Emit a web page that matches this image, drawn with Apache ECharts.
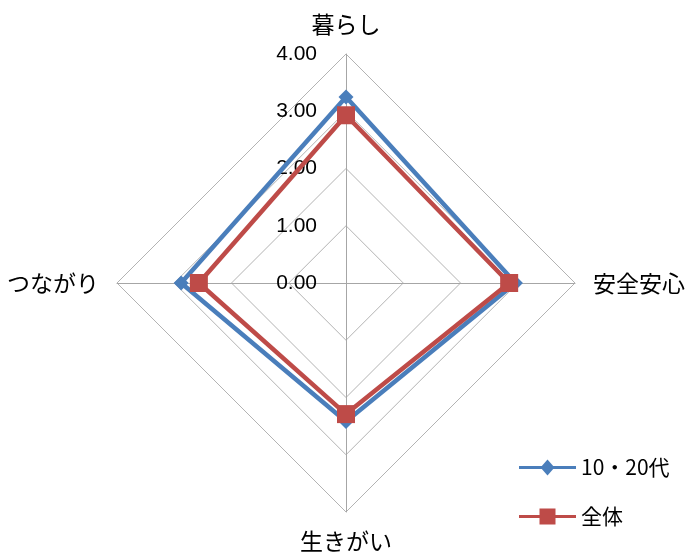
<!DOCTYPE html>
<html>
<head>
<meta charset="utf-8">
<script src="https://cdn.jsdelivr.net/npm/echarts@6/dist/echarts.min.js"></script>
<style>
html,body{margin:0;padding:0;background:#fff;}
#main{width:687px;height:556px;}
</style>
</head>
<body>
<div id="main"></div>
<script>
// 軸（反時計回り: 上→左→下→右）
var indicatorNames = ['暮らし', 'つながり', '生きがい', '安全安心'];
var seriesNames = ['10・20代', '全体'];
var youngValues = [3.25, 2.88, 2.42, 2.96];
var allValues = [2.93, 2.57, 2.29, 2.85];
var axisMin = 0;
var axisMax = 4;

var myChart = echarts.init(document.getElementById('main'));

var indicators = indicatorNames.map(function(n, i) {
	var ind = {name: n, min: axisMin, max: axisMax};
	//目盛りは上の軸だけ
	if (i !== 0) {
		ind.axisLabel = {show: false};
	}
	return ind;
});

//凡例アイコン（線＋マーカー）
var iconDiamond = 'path://M0 6.5L57 6.5L57 9.5L0 9.5Z M28.5 0L35.5 8L28.5 16L21.5 8Z';
var iconSquare = 'path://M0 6.5L57 6.5L57 9.5L0 9.5Z M20.5 0L36.5 0L36.5 16L20.5 16Z';

var option = {
	backgroundColor: '#ffffff',
	animation: false,
	textStyle: {fontFamily: 'Noto Sans CJK JP'},
	legend: {
		orient: 'vertical',
		left: 514,
		top: 452,
		itemWidth: 57,
		itemHeight: 16,
		itemGap: 28,
		textStyle: {fontSize: 21, color: '#000', fontFamily: 'Noto Sans CJK JP'},
		data: [
			{name: seriesNames[0], icon: iconDiamond},
			{name: seriesNames[1], icon: iconSquare}
		]
	},
	radar: {
		center: [346, 283],
		radius: 229,
		shape: 'polygon',
		splitNumber: 4,
		nameGap: 18,
		axisName: {
			color: '#000',
			fontSize: 23,
			fontFamily: 'Noto Sans CJK JP'
		},
		axisLine: {lineStyle: {color: '#a6a6a6', width: 1}},
		splitLine: {lineStyle: {color: '#b3b3b3', width: 1}},
		splitArea: {show: false},
		axisLabel: {
			show: true,
			color: '#000',
			fontSize: 21,
			fontFamily: 'Liberation Sans',
			margin: 29,
			formatter: function(v) { return v.toFixed(2); }
		},
		indicator: indicators
	},
	series: [{
		type: 'radar',
		data: [{
			name: seriesNames[0],
			value: youngValues,
			symbol: 'diamond',
			symbolSize: 15,
			itemStyle: {color: '#4a7ebb'},
			lineStyle: {color: '#4a7ebb', width: 4.5}
		}, {
			name: seriesNames[1],
			value: allValues,
			symbol: 'rect',
			symbolSize: 18,
			itemStyle: {color: '#be4b48'},
			lineStyle: {color: '#be4b48', width: 4.5}
		}]
	}]
};
myChart.setOption(option);
</script>
</body>
</html>
